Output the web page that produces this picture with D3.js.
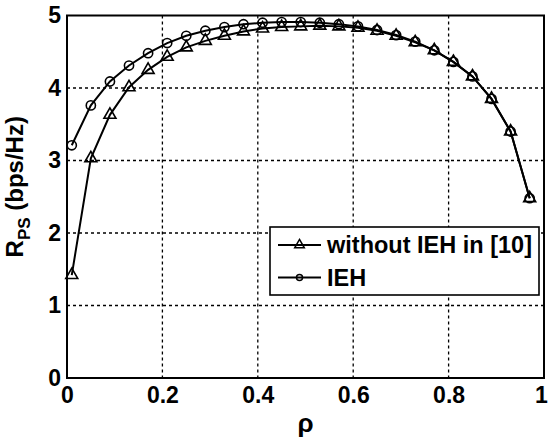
<!DOCTYPE html>
<html lang="en">
<head>
	<meta charset="UTF-8">
	<title>R_PS vs rho</title>
	<style type="text/css">
	body { margin: 0; background: #fff; }
	svg { font-family: "Liberation Sans", Arial, sans-serif; font-weight: bold; }
	.grid line { stroke: #000; stroke-dasharray: 3,3; stroke-width: 1.3; }
	.axis .domain { stroke: none; }
	.axis .tick line { stroke: none; }
	.axis text { font-size: 23px; fill: #000; }
	</style>
</head>
<body>
</body>
<script src="https://cdn.jsdelivr.net/npm/d3@7/dist/d3.min.js"></script>
<script>
// rho sample points
var rho = [0.01, 0.05, 0.09, 0.13, 0.17, 0.21, 0.25, 0.29, 0.33, 0.37, 0.41, 0.45, 0.49,
	0.53, 0.57, 0.61, 0.65, 0.69, 0.73, 0.77, 0.81, 0.85, 0.89, 0.93, 0.97]

// without IEH in [10]
var woIEH = [1.42, 3.03, 3.63, 4.01, 4.25, 4.43, 4.56, 4.65, 4.72, 4.78, 4.82, 4.84, 4.85,
	4.86, 4.85, 4.83, 4.79, 4.72, 4.63, 4.52, 4.36, 4.16, 3.85, 3.40, 2.48]

// IEH
var ieh = [3.21, 3.76, 4.09, 4.31, 4.48, 4.62, 4.72, 4.79, 4.84, 4.88, 4.90, 4.91, 4.91,
	4.90, 4.88, 4.85, 4.80, 4.73, 4.64, 4.52, 4.36, 4.16, 3.85, 3.40, 2.48]

var xTicks = [0, 0.2, 0.4, 0.6, 0.8, 1]
var yTicks = [0, 1, 2, 3, 4, 5]
var legendLabels = ["without IEH in [10]", "IEH"]

var W = 549, H = 444
var margin = {top: 15.5, right: 5, bottom: 66, left: 67},
    width = W - margin.left - margin.right,
    height = H - margin.top - margin.bottom

var x = d3.scaleLinear().domain([0, 1]).range([0, width])
var y = d3.scaleLinear().domain([0, 5]).range([height, 0])

var svg = d3.select("body").append("svg")
    .attr("width", W)
    .attr("height", H)
  .append("g")
    .attr("transform", "translate(" + margin.left + "," + margin.top + ")")

// grid
var grid = svg.append("g").attr("class", "grid")
grid.selectAll(".gx").data(xTicks.slice(1, -1)).enter().append("line")
    .attr("x1", d => x(d)).attr("x2", d => x(d))
    .attr("y1", 0).attr("y2", height)
grid.selectAll(".gy").data(yTicks.slice(1, -1)).enter().append("line")
    .attr("x1", 0).attr("x2", width)
    .attr("y1", d => y(d)).attr("y2", d => y(d))

// axes labels
var gx = svg.append("g")
    .attr("class", "axis axis--x")
    .attr("transform", "translate(0," + height + ")")
    .call(d3.axisBottom(x).tickValues(xTicks).tickFormat(d3.format("")).tickSize(0).tickPadding(9))
// keep the "1" inside the window
gx.selectAll(".tick text").filter(d => d === 1).attr("dx", -3)

svg.append("g")
    .attr("class", "axis axis--y")
    .call(d3.axisLeft(y).tickValues(yTicks).tickFormat(d3.format("d")).tickSize(0).tickPadding(6))

// box
svg.append("rect")
    .attr("width", width).attr("height", height)
    .attr("fill", "none").attr("stroke", "#000").attr("stroke-width", 2)

// series
var line = d3.line()
    .x((d, i) => x(rho[i]))
    .y(d => y(d))

var tri = d3.symbol().type(d3.symbolTriangle).size(62)
var circ = d3.symbol().type(d3.symbolCircle).size(Math.PI * 4.6 * 4.6)

function drawSeries(vals, marker) {
	svg.append("path")
	    .datum(vals)
	    .attr("fill", "none")
	    .attr("stroke", "#000")
	    .attr("stroke-width", 2)
	    .attr("d", line)
	var g = svg.append("g")
	g.selectAll("path").data(vals).enter().append("path")
	    .attr("transform", (d, i) => "translate(" + x(rho[i]) + "," + y(d) + ")")
	    .attr("d", marker)
	    .attr("fill", "none")
	    .attr("stroke", "#000")
	    .attr("stroke-width", 1.6)
}

drawSeries(woIEH, tri)
drawSeries(ieh, circ)

// axis titles
svg.append("text")
    .attr("x", width / 2)
    .attr("y", height + 54)
    .attr("text-anchor", "middle")
    .style("font-size", "26px")
    .text("ρ")

var yl = svg.append("text")
    .attr("transform", "translate(" + (-44) + "," + (height / 2 - 10) + ") rotate(-90)")
    .attr("text-anchor", "middle")
    .style("font-size", "24px")
yl.append("tspan").text("R")
yl.append("tspan").attr("dy", 7).style("font-size", "17px").text("PS")
yl.append("tspan").attr("dy", -7).text(" (bps/Hz)")

// legend
var lg = svg.append("g").attr("transform", "translate(" + (270 - margin.left) + "," + (227 - margin.top) + ")")
lg.append("rect")
    .attr("width", 269).attr("height", 68)
    .attr("fill", "#fff").attr("stroke", "#000").attr("stroke-width", 1.6)

legendLabels.forEach(function (lab, i) {
	var cy = 18 + i * 32.5
	lg.append("line")
	    .attr("x1", 8).attr("x2", 51)
	    .attr("y1", cy).attr("y2", cy)
	    .attr("stroke", "#000").attr("stroke-width", 2)
	lg.append("path")
	    .attr("transform", "translate(29.5," + cy + ")")
	    .attr("d", i === 0 ? tri.size(40)() : circ.size(Math.PI * 9)())
	    .attr("fill", "none").attr("stroke", "#000").attr("stroke-width", 1.5)
	lg.append("text")
	    .attr("x", 57).attr("y", cy)
	    .attr("dy", "0.36em")
	    .style("font-size", "23.5px")
	    .text(lab)
})
</script>
</html>
